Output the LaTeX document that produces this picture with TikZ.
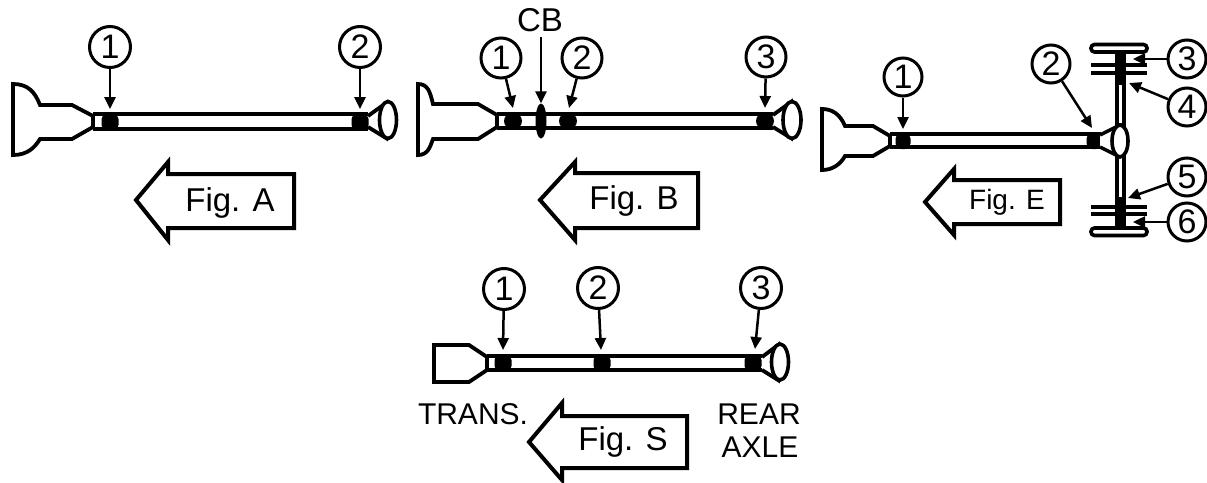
\documentclass[tikz,border=0pt]{standalone}
\usepackage{fontspec}
\setmainfont{Liberation Sans}
\usetikzlibrary{arrows.meta,shapes.geometric}
\tikzset{
  x=1pt,y=-1pt,
  num/.style={circle,draw,line width=3pt,fill=white,inner sep=0pt,minimum size=#1,font=\fontsize{34}{36}\selectfont},
  num/.default=41pt,
  lead/.style={line width=2.5pt,-{Triangle[length=12pt,width=11pt]}},
  body/.style={line width=3.8pt,line join=miter,fill=white},
  tube/.style={line width=4.6pt},
  blob/.style={ellipse,fill=black,inner sep=0pt,minimum width=#1,minimum height=17pt},
  blob/.default=18pt,
  sqblob/.style={rectangle,rounded corners=5.5pt,fill=black,inner sep=0pt,minimum width=#1,minimum height=17pt},
  sqblob/.default=17pt,
  diff/.style={ellipse,draw,line width=3.6pt,fill=white,inner sep=0pt},
  bigarrow/.style={line width=4pt,line join=miter,fill=white},
  figlabel/.style={inner sep=0pt,font=\fontsize{33}{35}\selectfont},
  note/.style={inner sep=0pt,font=\fontsize{30}{32}\selectfont},
  tire/.style={line width=3.6pt,rounded corners=3.5pt,fill=white},
  rim/.style={line width=3.6pt}
}
\begin{document}
\begin{tikzpicture}
\useasboundingbox (0,0) rectangle (1207,482);
% ---------- Fig. A
\draw[body] (13,84) .. controls (28,84) and (35,92) .. (40,105) -- (72,105) -- (93,116) -- (93,127) -- (72,139) -- (40,139) .. controls (35,147) and (28,155) .. (13,155) -- cycle;
\draw[body] (368,116) -- (386,103) -- (386,138) -- (368,127);
\draw[tube] (93,114) -- (368,114) (93,129) -- (368,129);
\node[diff,minimum width=17pt,minimum height=37pt] (aD) at (388,120) {};
\node[sqblob] (a1) at (110,122) {};
\node[sqblob] (a2) at (360,122) {};
\coordinate (a1t) at (110,109);
\coordinate (a2t) at (360,109);
\node[num] (an1) at (110,47) {1};
\node[num] (an2) at (360,47) {2};
\draw[lead] (an1) -- (a1t);
\draw[lead] (an2) -- (a2t);
\draw[bigarrow] (136,200) -- (168,162) -- (168,174) -- (294,174) -- (294,228) -- (168,228) -- (168,240) -- cycle;
\node[figlabel] (aL) at (230,203) {Fig. A};
% ---------- Fig. B
\draw[body] (418,84) .. controls (428,84) and (430,92) .. (433,104) -- (478,104) -- (497,115) -- (497,127) -- (478,139) -- (433,139) .. controls (430,147) and (428,155) .. (418,155) -- cycle;
\draw[body] (773,115) -- (791,102) -- (791,138) -- (773,127);
\draw[tube] (497,114) -- (773,114) (497,128) -- (773,128);
\node[diff,minimum width=18pt,minimum height=37pt] (bD) at (792,120) {};
\node[blob] (b1) at (513,121) {};
\node[blob] (b2) at (568,121) {};
\node[blob] (b3) at (765,121) {};
\node[ellipse,fill=black,inner sep=0pt,minimum width=11pt,minimum height=35pt] (cb) at (541,121) {};
\coordinate (b1t) at (513,108);
\coordinate (b2t) at (569,108);
\coordinate (b3t) at (765,108);
\node[num=40pt] (bn1) at (501,58) {1};
\node[num=40pt] (bn2) at (582,58) {2};
\node[num=40pt] (bn3) at (766,57) {3};
\node[inner sep=0pt,font=\fontsize{33}{35}\selectfont] (cbL) at (540,20) {CB};
\draw[lead] (bn1) -- (b1t);
\draw[lead] (bn2) -- (b2t);
\draw[lead] (bn3) -- (b3t);
\draw[lead] (cbL.south -| cb.north) ++(0,5) -- (cb.north);
\draw[bigarrow] (540,200) -- (575,162) -- (575,173) -- (698,173) -- (698,228) -- (575,228) -- (575,240) -- cycle;
\node[figlabel] (bL) at (634,201) {Fig. B};
% ---------- Fig. E
\draw[body] (822,109) .. controls (832,109) and (840,114) .. (845,126) -- (873,126) -- (890,136) -- (890,146) -- (873,156) -- (845,156) .. controls (840,165) and (832,170) .. (822,170) -- cycle;
\draw[tube] (890,134) -- (1101,134) (890,147) -- (1101,147);
\node[sqblob=15pt,minimum height=16pt] (e1) at (903,141) {};
\node[sqblob=15pt,minimum height=16pt] (e2) at (1094,141) {};
% axle
\fill (1114.5,53) rectangle (1125.5,227);
\fill[white] (1118.8,85) rectangle (1121.8,123);
\fill[white] (1118.8,158) rectangle (1121.8,197);
\draw[rim] (1091,65) -- (1147,65) (1091,73) -- (1147,73);
\draw[rim] (1091,207) -- (1147,207) (1091,214) -- (1147,214);
\draw[tire] (1091,44.5) rectangle (1147,52);
\draw[tire] (1091,228) rectangle (1147,235.5);
\draw[body,line width=3.4pt] (1100,135) -- (1118,126) -- (1118,156) -- (1100,147);
\node[diff,minimum width=16pt,minimum height=32pt] (eD) at (1120,141) {};
\coordinate (e1t) at (903,129);
\coordinate (e2t) at (1092,128);
\coordinate (e3t) at (1133,59);
\coordinate (e4t) at (1129,83);
\coordinate (e5t) at (1128,198);
\coordinate (e6t) at (1133,222);
\node[num=38pt] (en1) at (903,77) {1};
\node[num=38pt] (en2) at (1051,64) {2};
\node[num=38pt] (en3) at (1187,59) {3};
\node[num=38pt] (en4) at (1187,107) {4};
\node[num=38pt] (en5) at (1187,177) {5};
\node[num=38pt] (en6) at (1187,222) {6};
\draw[lead] (en1) -- (e1t);
\draw[lead] (en2) -- (e2t);
\draw[lead] (en3) -- (e3t);
\draw[lead] (en4) -- (e4t);
\draw[lead] (en5) -- (e5t);
\draw[lead] (en6) -- (e6t);
\draw[bigarrow] (925,202) -- (954,169) -- (954,180) -- (1060,180) -- (1060,224) -- (954,224) -- (954,235) -- cycle;
\node[inner sep=0pt,font=\fontsize{28}{30}\selectfont] (eL) at (1007,202) {Fig. E};
% ---------- Fig. S
\draw[body] (434,345) -- (469,345) -- (487,357) -- (487,370) -- (469,382) -- (434,382) -- cycle;
\draw[body] (762,357) -- (778,345) -- (778,380) -- (762,370);
\draw[tube] (487,356) -- (762,356) (487,370) -- (762,370);
\node[diff,minimum width=17pt,minimum height=36pt] (sD) at (780,362) {};
\node[sqblob] (s1) at (503,363) {};
\node[sqblob] (s2) at (602,363) {};
\node[sqblob] (s3) at (753,363) {};
\coordinate (s1t) at (503,350);
\coordinate (s2t) at (601,350);
\coordinate (s3t) at (755,349);
\node[num] (sn1) at (504,289) {1};
\node[num] (sn2) at (598,288) {2};
\node[num] (sn3) at (761,288) {3};
\draw[lead] (sn1) -- (s1t);
\draw[lead] (sn2) -- (s2t);
\draw[lead] (sn3) -- (s3t);
\draw[bigarrow] (529,442) -- (562,403) -- (562,416) -- (687,416) -- (687,468) -- (562,468) -- (562,480) -- cycle;
\node[figlabel] (sL) at (623,442) {Fig. S};
\node[note] (trans) at (473,414) {TRANS.};
\node[note] (rear) at (759,414) {REAR};
\node[note] (axle) at (760,447) {AXLE};
\end{tikzpicture}
\end{document}
